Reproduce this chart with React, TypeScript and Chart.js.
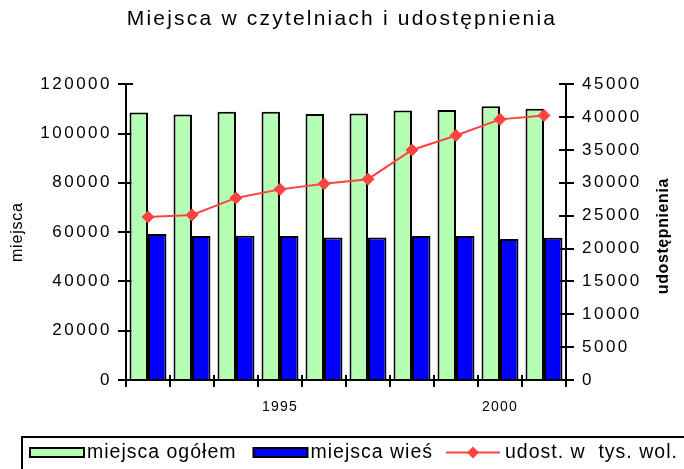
import React, { useEffect, useRef } from 'react';
import { Chart, registerables } from 'chart.js';

Chart.register(...registerables);

const FONT = '"Liberation Sans", Arial, sans-serif';

const years = ['1992', '1993', '1994', '1995', '1996', '1997', '1998', '1999', '2000', '2001'];
const shownYearLabels = ['1995', '2000'];
const totalSeats = [108500, 107700, 108800, 108800, 107900, 108100, 109300, 109500, 111100, 110000];
const ruralSeats = [59200, 58400, 58500, 58400, 57800, 57800, 58400, 58400, 57200, 57700];
const loansThousands = [24800, 25100, 27700, 29000, 29850, 30550, 35000, 37200, 39650, 40250];
const leftAxisMax = 120000;
const leftAxisStep = 20000;
const rightAxisMax = 45000;
const rightAxisStep = 5000;

const GREEN = '#b4ffb4';
const BLUE = '#0000ff';
const RED = '#ff4343';

function withSpacing(chart: any, obj: any, name: string, ls: string) {
  if (!obj || obj['__ls_' + name]) return;
  const orig = obj[name];
  obj[name] = function (...args: any[]) {
    const ctx = chart.ctx as any;
    const prev = ctx.letterSpacing;
    ctx.letterSpacing = ls;
    try {
      return orig.apply(this, args);
    } finally {
      ctx.letterSpacing = prev;
    }
  };
  obj['__ls_' + name] = true;
}

const spacingPlugin = {
  id: 'spacingPlugin',
  beforeDraw(chart: any) {
    withSpacing(chart, chart.scales.x, 'drawLabels', '1.2px');
    withSpacing(chart, chart.scales.y, 'drawLabels', '2.5px');
    withSpacing(chart, chart.scales.y, 'drawTitle', '0.8px');
    withSpacing(chart, chart.scales.y1, 'drawLabels', '2.5px');
    withSpacing(chart, chart.titleBlock, 'draw', '2.2px');
  },
};

const innerTicksPlugin = {
  id: 'innerTicks',
  beforeDatasetsDraw(chart: any) {
    const { ctx, chartArea, scales } = chart;
    const len = 7;
    ctx.save();
    ctx.strokeStyle = '#000';
    ctx.lineWidth = 2;
    ctx.beginPath();
    scales.y.ticks.forEach((_: any, i: number) => {
      const yy = Math.round(scales.y.getPixelForTick(i));
      ctx.moveTo(chartArea.left, yy);
      ctx.lineTo(chartArea.left + len, yy);
    });
    scales.y1.ticks.forEach((_: any, i: number) => {
      const yy = Math.round(scales.y1.getPixelForTick(i));
      ctx.moveTo(chartArea.right, yy);
      ctx.lineTo(chartArea.right - len, yy);
    });
    for (let i = 0; i <= years.length; i++) {
      const xx = Math.round(scales.x.getPixelForValue(i - 0.5));
      ctx.moveTo(xx, chartArea.bottom);
      ctx.lineTo(xx, chartArea.bottom - 5);
    }
    ctx.stroke();
    ctx.restore();
  },
};

const customTextPlugin = {
  id: 'customText',
  afterDraw(chart: any) {
    const { ctx, chartArea } = chart;
    const c = ctx as any;
    ctx.save();
    // right axis title (reads bottom to top)
    ctx.font = `bold 16px ${FONT}`;
    c.letterSpacing = '0.6px';
    ctx.fillStyle = '#000';
    ctx.textAlign = 'center';
    ctx.textBaseline = 'middle';
    ctx.translate(664, (chartArea.top + chartArea.bottom) / 2 + 4);
    ctx.rotate(-Math.PI / 2);
    ctx.fillText('udostępnienia', 0, 0);
    ctx.restore();

    // legend
    ctx.save();
    ctx.lineWidth = 2;
    ctx.strokeStyle = '#000';
    ctx.strokeRect(22, 437, 800, 100);
    const ds = chart.data.datasets;
    const midY = 452.5;
    ctx.font = `19.5px ${FONT}`;
    c.letterSpacing = '1px';
    ctx.textAlign = 'left';
    ctx.textBaseline = 'middle';
    ctx.fillStyle = '#000';
    const swatchW = 54;
    const gaps = [17, 13];
    let x = 30;
    ds.forEach((d: any, i: number) => {
      let tx: number;
      if (d.type === 'line') {
        ctx.strokeStyle = d.borderColor;
        ctx.lineWidth = 2;
        ctx.beginPath();
        ctx.moveTo(x, midY);
        ctx.lineTo(x + swatchW, midY);
        ctx.stroke();
        const cx = x + swatchW / 2;
        const r = 6;
        ctx.fillStyle = d.pointBackgroundColor;
        ctx.beginPath();
        ctx.moveTo(cx - r, midY);
        ctx.lineTo(cx, midY - r);
        ctx.lineTo(cx + r, midY);
        ctx.lineTo(cx, midY + r);
        ctx.closePath();
        ctx.fill();
        tx = x + swatchW + 5;
      } else {
        ctx.fillStyle = d.backgroundColor;
        ctx.fillRect(x, midY - 4.5, swatchW, 9);
        ctx.strokeStyle = '#000';
        ctx.lineWidth = 2;
        ctx.strokeRect(x, midY - 4.5, swatchW, 9);
        tx = x + swatchW + 3;
      }
      ctx.fillStyle = '#000';
      ctx.fillText(d.label, tx, midY);
      x = tx + ctx.measureText(d.label).width + (gaps[i] || 0);
    });
    ctx.restore();
  },
};

const plainNumber = (v: any) => String(v);

export default function App() {
  const ref = useRef<HTMLCanvasElement | null>(null);

  useEffect(() => {
    if (!ref.current) return;
    const chart = new Chart(ref.current, {
      type: 'bar',
      data: {
        labels: years,
        datasets: [
          {
            type: 'bar',
            label: 'miejsca ogółem',
            data: totalSeats,
            backgroundColor: GREEN,
            borderColor: '#000',
            borderWidth: 2,
            yAxisID: 'y',
            order: 1,
            categoryPercentage: 0.84,
            barPercentage: 1.0,
          } as any,
          {
            type: 'bar',
            label: 'miejsca wieś',
            data: ruralSeats,
            backgroundColor: BLUE,
            borderColor: '#000',
            borderWidth: 2,
            yAxisID: 'y',
            order: 1,
            categoryPercentage: 0.84,
            barPercentage: 1.0,
          } as any,
          {
            type: 'line',
            label: 'udost. w  tys. wol.',
            data: loansThousands,
            borderColor: RED,
            backgroundColor: RED,
            pointBackgroundColor: RED,
            pointBorderColor: RED,
            pointStyle: 'rectRot',
            pointRadius: 6,
            pointBorderWidth: 1,
            borderWidth: 2,
            tension: 0,
            yAxisID: 'y1',
            order: 0,
          } as any,
        ],
      },
      options: {
        responsive: false,
        animation: false,
        layout: { padding: { left: 0, right: 0, top: 0, bottom: 49 } },
        plugins: {
          legend: { display: false },
          tooltip: { enabled: false },
          title: {
            display: true,
            text: 'Miejsca w czytelniach i udostępnienia',
            color: '#000',
            font: { family: FONT, size: 21, weight: 'normal' },
            padding: { top: 7, bottom: 52 },
          },
        },
        scales: {
          x: {
            type: 'category',
            offset: true,
            grid: {
              offset: true,
              drawOnChartArea: false,
              drawTicks: true,
              tickLength: 7,
              color: '#000',
              lineWidth: 2,
            },
            border: { display: true, color: '#000', width: 2 },
            ticks: {
              autoSkip: false,
              maxRotation: 0,
              padding: 12,
              color: '#000',
              font: { family: FONT, size: 14 },
              callback: (_v: any, i: number) => (shownYearLabels.includes(years[i]) ? years[i] : ''),
            },
            afterFit: (s: any) => {
              s.height = 40;
            },
          },
          y: {
            position: 'left',
            min: 0,
            max: leftAxisMax,
            grid: {
              drawOnChartArea: false,
              drawTicks: true,
              tickLength: 8,
              color: '#000',
              lineWidth: 2,
            },
            border: { display: true, color: '#000', width: 2 },
            ticks: {
              stepSize: leftAxisStep,
              padding: 6,
              color: '#000',
              font: { family: FONT, size: 17 },
              callback: plainNumber,
            },
            title: {
              display: true,
              text: 'miejsca',
              color: '#000',
              font: { family: FONT, size: 16 },
              padding: { top: 8, bottom: 0 },
            },
            afterFit: (s: any) => {
              s.width = 126;
            },
          },
          y1: {
            position: 'right',
            min: 0,
            max: rightAxisMax,
            grid: {
              drawOnChartArea: false,
              drawTicks: true,
              tickLength: 8,
              color: '#000',
              lineWidth: 2,
            },
            border: { display: true, color: '#000', width: 2 },
            ticks: {
              stepSize: rightAxisStep,
              padding: 8,
              color: '#000',
              font: { family: FONT, size: 17 },
              callback: plainNumber,
            },
            afterFit: (s: any) => {
              s.width = 118;
            },
          },
        },
      } as any,
      plugins: [spacingPlugin, innerTicksPlugin, customTextPlugin],
    });
    return () => chart.destroy();
  }, []);

  return (
    <div style={{ position: 'absolute', left: 0, top: 0, width: 684, height: 469, background: '#fff' }}>
      <canvas ref={ref} width={684} height={469} style={{ width: 684, height: 469, display: 'block' }} />
    </div>
  );
}
